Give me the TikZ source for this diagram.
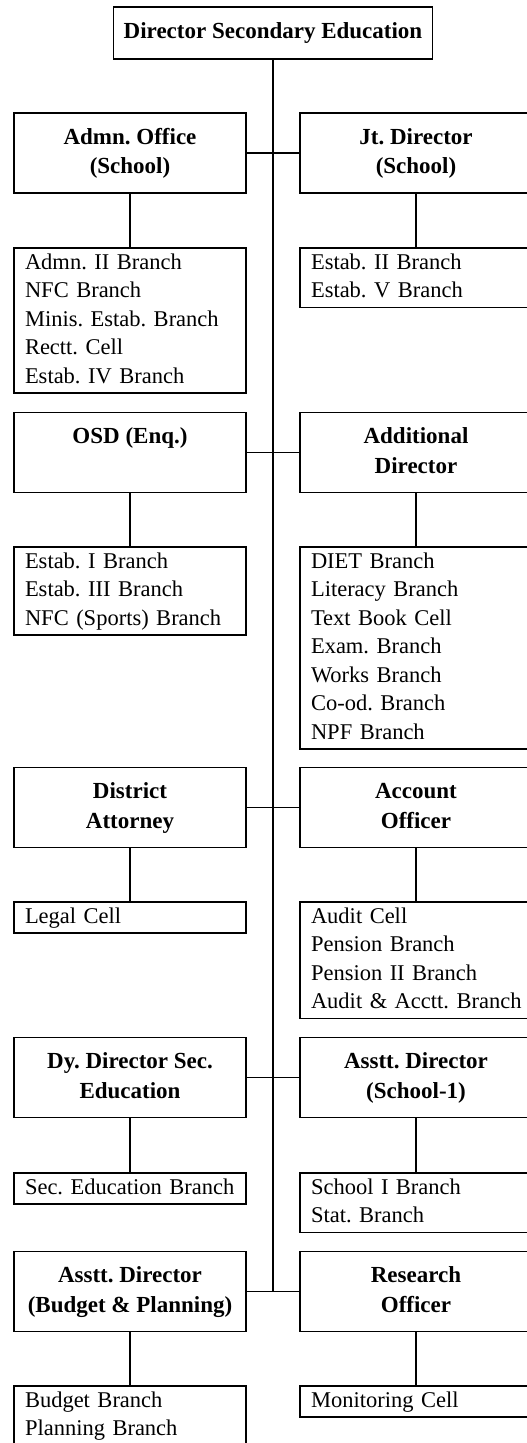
\documentclass[tikz,border=0pt]{standalone}
\usepackage{fontspec}
\setmainfont{Liberation Serif}
\frenchspacing
\begin{document}
\begin{tikzpicture}[x=1pt,y=-1pt,
  box/.style={draw, line width=1.6pt, rectangle, inner sep=0pt, outer sep=0pt},
  head/.style={box, minimum width=232pt, minimum height=80pt, align=center,
    font=\bfseries\fontsize{23}{29.5}\selectfont},
  listbox/.style={box, anchor=north west, text width=210pt, inner xsep=11pt,
    inner ysep=1.25pt, align=left, font=\fontsize{22.5}{28.5}\selectfont},
  link/.style={line width=1.6pt}]
\clip (0,0) rectangle (527,1443);
\fill[white] (0,0) rectangle (527,1443);

% top of the hierarchy
\node[box, minimum width=319pt, minimum height=52pt,
  font=\bfseries\fontsize{23}{29.5}\selectfont] (dse) at (273,33)
  {\strut Director Secondary Education};

% officers, left and right of the spine
\node[head] (adm) at (130,153)  {\strut Admn. Office\\\strut (School)};
\node[head] (jtd) at (416,153)  {\strut Jt. Director\\\strut (School)};
\node[head] (osd) at (130,452.5) {\strut OSD (Enq.)\\\strut};
\node[head] (add) at (416,452.5) {\strut Additional\\\strut Director};
\node[head] (dat) at (130,807.5) {\strut District\\\strut Attorney};
\node[head] (acc) at (416,807.5) {\strut Account\\\strut Officer};
\node[head] (dyd) at (130,1077.5) {\strut Dy. Director Sec.\\\strut Education};
\node[head] (asd) at (416,1077.5) {\strut Asstt. Director\\\strut (School-1)};
\node[head] (abp) at (130,1291.5) {\strut Asstt. Director\\\strut (Budget \& Planning)};
\node[head] (reo) at (416,1291.5) {\strut Research\\\strut Officer};

% branches and cells under each officer
\node[listbox] (admL) at (14,248) {\begin{tabular}{@{}l@{}}Admn. II Branch\\NFC Branch\\Minis. Estab. Branch\\Rectt. Cell\\Estab. IV Branch\end{tabular}};
\node[listbox] (jtdL) at (300,248) {\begin{tabular}{@{}l@{}}Estab. II Branch\\Estab. V Branch\end{tabular}};
\node[listbox] (osdL) at (14,547) {\begin{tabular}{@{}l@{}}Estab. I Branch\\Estab. III Branch\\NFC (Sports) Branch\end{tabular}};
\node[listbox] (addL) at (300,547) {\begin{tabular}{@{}l@{}}DIET Branch\\Literacy Branch\\Text Book Cell\\Exam. Branch\\Works Branch\\Co-od. Branch\\NPF Branch\end{tabular}};
\node[listbox] (datL) at (14,902) {\begin{tabular}{@{}l@{}}Legal Cell\end{tabular}};
\node[listbox] (accL) at (300,902) {\begin{tabular}{@{}l@{}}Audit Cell\\Pension Branch\\Pension II Branch\\Audit \& Acctt. Branch\end{tabular}};
\node[listbox] (dydL) at (14,1173) {\begin{tabular}{@{}l@{}}Sec. Education Branch\end{tabular}};
\node[listbox] (asdL) at (300,1173) {\begin{tabular}{@{}l@{}}School I Branch\\Stat. Branch\end{tabular}};
\node[listbox] (abpL) at (14,1386) {\begin{tabular}{@{}l@{}}Budget Branch\\Planning Branch\end{tabular}};
\node[listbox] (reoL) at (300,1386) {\begin{tabular}{@{}l@{}}Monitoring Cell\end{tabular}};

% the spine and its cross links
\coordinate (spineEnd) at (273,1291.5);
\draw[link] (dse.south) -- (spineEnd);
\foreach \l/\r in {adm/jtd, osd/add, dat/acc, dyd/asd, abp/reo}
  \draw[link] (\l.east) -- (\r.west);

% officer to branch links
\foreach \n in {adm, jtd, osd, add, dat, acc, dyd, asd, abp, reo}
  \draw[link] (\n.south) -- (\n.south |- \n L.north);
\end{tikzpicture}
\end{document}
